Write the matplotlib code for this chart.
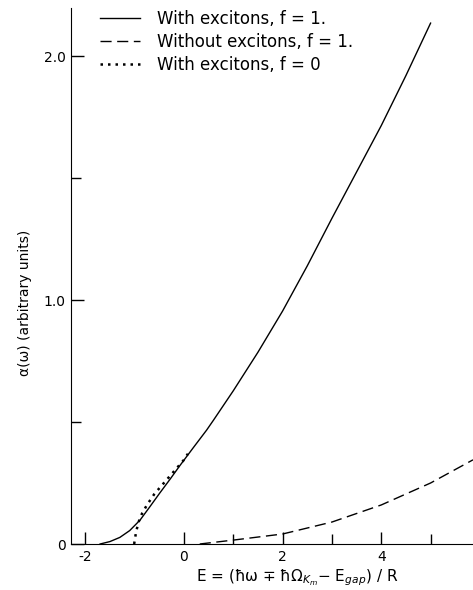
import matplotlib
matplotlib.use("Agg")
import matplotlib.pyplot as plt
from matplotlib.ticker import FixedLocator

plt.rcParams["font.family"] = ["DejaVu Sans"]
plt.rcParams["mathtext.fontset"] = "dejavusans"

# With excitons, f = 1 (solid)
x_exc1 = [-1.70, -1.5, -1.3, -1.1, -0.89, -0.69, -0.49, -0.28, -0.08, 0.19, 0.46,
          0.6, 1.0, 1.5, 2.0, 2.5, 3.0, 3.5, 4.0, 4.5, 5.0]
y_exc1 = [0.0, 0.01, 0.027, 0.055, 0.098, 0.153, 0.209, 0.266, 0.322, 0.395, 0.467,
          0.508, 0.628, 0.786, 0.955, 1.14, 1.335, 1.525, 1.715, 1.92, 2.135]

# Without excitons, f = 1 (dashed)
x_noexc = [0.32, 1.0, 2.0, 3.0, 4.0, 5.0, 5.86]
y_noexc = [0.0, 0.016, 0.041, 0.09, 0.16, 0.25, 0.345]

# With excitons, f = 0 (dotted)
x_exc0 = [-1.01, -0.97, -0.92, -0.85, -0.75, -0.6, -0.45, -0.3, -0.15, 0.0, 0.08]
y_exc0 = [0.0, 0.05, 0.09, 0.125, 0.16, 0.205, 0.24, 0.275, 0.31, 0.345, 0.37]

labels = ["With excitons, f = 1.", "Without excitons, f = 1.", "With excitons, f = 0"]

fig = plt.figure(figsize=(4.73, 5.90), dpi=100)
ax = fig.add_axes([71 / 473, 1 - 544 / 590, 1 - 71 / 473, (544 - 8) / 590])

l1, = ax.plot(x_exc1, y_exc1, color="black", lw=1.0)
l2, = ax.plot(x_noexc, y_noexc, color="black", lw=1.0, linestyle=(0, (8, 4)))
l3, = ax.plot(x_exc0, y_exc0, color="black", lw=1.8, linestyle=(0, (1, 2)))

ax.set_xlim(-2.29, 5.86)
ax.set_ylim(0, 2.197)

ax.spines["top"].set_visible(False)
ax.spines["right"].set_visible(False)

ax.xaxis.set_major_locator(FixedLocator([-2, 0, 2, 4]))
ax.xaxis.set_minor_locator(FixedLocator([1, 3, 5]))
ax.yaxis.set_major_locator(FixedLocator([0, 1, 2]))
ax.yaxis.set_minor_locator(FixedLocator([0.5, 1.5]))
ax.set_yticklabels(["0", "1.0", "2.0"])
ax.set_xticklabels(["-2", "0", "2", "4"])
ax.tick_params(which="major", direction="in", length=9, width=1, labelsize=10, pad=4)
ax.tick_params(which="minor", direction="in", length=7, width=1)

fig.text(25 / 473, 1 - 303 / 590, r"α(ω) (arbitrary units)", rotation=90,
         ha="center", va="center", fontsize=10)
fig.text(297 / 473, 1 - 578 / 590,
         r"E = (ħω ∓ ħΩ$_{K_m}$− E$_{gap}$) / R", ha="center", va="center", fontsize=11)

fig.legend([l1, l2, l3], labels, loc="upper left", bbox_to_anchor=(85 / 473, 1 + 5 / 590),
           frameon=False, fontsize=12, handlelength=2.4, handletextpad=1.0,
           labelspacing=0.3)

fig.savefig("out.png", dpi=100)
